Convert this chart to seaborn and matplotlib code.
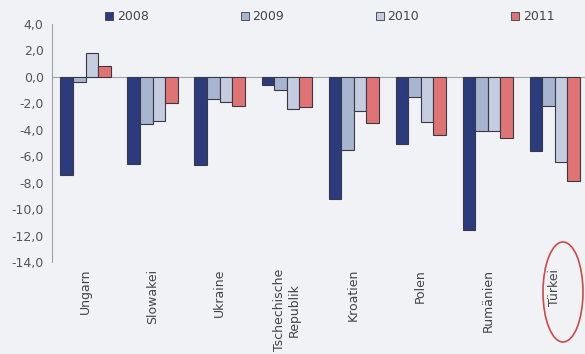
import matplotlib
matplotlib.use("Agg")
import matplotlib.pyplot as plt
from matplotlib.patches import Ellipse
from matplotlib.ticker import FuncFormatter
import numpy as np
import pandas as pd
import seaborn as sns

# Budget balance by country and year (% of GDP)
countries = ["Ungarn", "Slowakei", "Ukraine", "Tschechische\nRepublik",
             "Kroatien", "Polen", "Rumänien", "Türkei"]
years = ["2008", "2009", "2010", "2011"]
v2008 = [-7.4, -6.6, -6.7, -0.6, -9.2, -5.1, -11.6, -5.6]
v2009 = [-0.4, -3.6, -1.7, -1.0, -5.5, -1.5, -4.1, -2.2]
v2010 = [1.8, -3.3, -1.9, -2.4, -2.6, -3.4, -4.1, -6.4]
v2011 = [0.8, -2.0, -2.2, -2.3, -3.5, -4.4, -4.6, -7.9]

series = {"2008": v2008, "2009": v2009, "2010": v2010, "2011": v2011}
df = pd.DataFrame([
    {"Land": c, "Jahr": y, "Wert": series[y][i]}
    for y in years for i, c in enumerate(countries)
])

palette = {"2008": "#2b3b7d", "2009": "#a7b5d0", "2010": "#c4cce0", "2011": "#e07474"}
bg = "#f1f2f6"

sns.set_style("white")
plt.rcParams["font.family"] = ["DejaVu Sans"]

fig = plt.figure(figsize=(5.85, 3.54), dpi=100, facecolor=bg)
ax = fig.add_axes([52 / 585, 1 - 262 / 354, 1 - 52 / 585, (262 - 24) / 354])
ax.set_facecolor(bg)

sns.barplot(data=df, x="Land", y="Wert", hue="Jahr", order=countries,
            hue_order=years, palette=palette, width=0.75, saturation=1,
            edgecolor="#3a3a44", linewidth=0.8, ax=ax, legend=False)

ax.set_xlim(-0.5, 7.45)
ax.set_ylim(-14, 4)
ax.set_yticks(np.arange(-14, 4.1, 2))
ax.yaxis.set_major_formatter(FuncFormatter(lambda v, _: f"{v:.1f}".replace(".", ",")))
ax.set_xlabel("")
ax.set_ylabel("")

for s in ["top", "right", "bottom"]:
    ax.spines[s].set_visible(False)
ax.spines["left"].set_color("#a0a0a8")
ax.spines["left"].set_linewidth(0.8)
ax.axhline(0, color="#a0a0a8", lw=0.8, zorder=0.5)

ax.tick_params(axis="y", direction="out", length=3, width=0.6, color="#a0a0a8",
               labelsize=9, labelcolor="#555555", pad=3)
ax.tick_params(axis="x", length=0, labelsize=9, labelcolor="#444444", pad=5)
for lab in ax.get_xticklabels():
    lab.set_rotation(90)
    lab.set_va("top")
    lab.set_ha("center")
    lab.set_multialignment("center")

# Legend across the top
handles = [plt.Rectangle((0, 0), 1, 1, facecolor=palette[y], edgecolor="#3a3a44", lw=0.6)
           for y in years]
fig.legend(handles, years, loc="center left", bbox_to_anchor=(105 / 585, 1 - 17 / 354),
           ncol=4, frameon=False, fontsize=9, handlelength=0.64, handleheight=0.64,
           handletextpad=0.3, columnspacing=7.35, borderpad=0, borderaxespad=0,
           labelcolor="#444444")

# Highlight ring around Türkei
fig.patches.append(Ellipse((563 / 585, 1 - 292 / 354), 40 / 585, 100 / 354,
                           transform=fig.transFigure, fill=False,
                           edgecolor="#d04848", lw=1.2))

fig.savefig("out.png", dpi=100, facecolor=bg)
